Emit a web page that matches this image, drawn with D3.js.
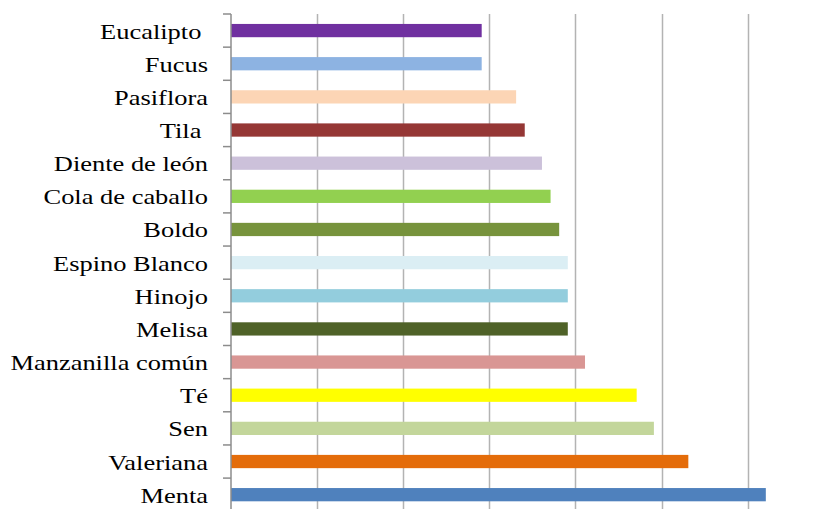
<!DOCTYPE html>
<html>
<head>
<meta charset="utf-8">
<script src="https://cdn.jsdelivr.net/npm/d3@7"></script>
<style>
  html, body { margin: 0; padding: 0; background: #fff; }
  svg { display: block; }
  .label { font-family: "Liberation Serif", "Times New Roman", Times, serif; }
</style>
</head>
<body>
<svg id="chart" width="824" height="509"></svg>
<script>
// Plants, listed top to bottom
const categories = [
  "Eucalipto ", "Fucus", "Pasiflora", "Tila ", "Diente de león",
  "Cola de caballo", "Boldo", "Espino Blanco", "Hinojo", "Melisa",
  "Manzanilla común", "Té", "Sen", "Valeriana", "Menta"
];
const values = [29, 29, 33, 34, 36, 37, 38, 39, 39, 39, 41, 47, 49, 53, 62];
const colors = [
  "#7030a0", "#8db3e2", "#fcd5b5", "#953735", "#ccc1da",
  "#92d050", "#77933c", "#dbeef4", "#93cddd", "#4f6228",
  "#d99694", "#ffff00", "#c3d69b", "#e46c0a", "#4f81bd"
];
const xTicks = [0, 10, 20, 30, 40, 50, 60, 70];

const svg = d3.select("#chart");
const plotLeft = 231, plotTop = 14, bandStep = 33.15;
const plotBottom = plotTop + bandStep * categories.length;

const x = d3.scaleLinear().domain([0, 70]).range([plotLeft, plotLeft + 86.1 * 7]);
const y = d3.scaleBand()
  .domain(categories)
  .range([plotTop, plotBottom])
  .paddingInner(0.6)
  .paddingOuter(0.3);

// vertical gridlines
svg.append("g")
  .selectAll("line")
  .data(xTicks.slice(1))
  .join("line")
  .attr("x1", d => Math.round(x(d)) + 0.5)
  .attr("x2", d => Math.round(x(d)) + 0.5)
  .attr("y1", plotTop)
  .attr("y2", plotBottom)
  .attr("stroke", "#b3b3b3")
  .attr("stroke-width", 1.5);

// bars
svg.append("g")
  .selectAll("rect")
  .data(categories)
  .join("rect")
  .attr("x", plotLeft)
  .attr("y", d => y(d))
  .attr("height", y.bandwidth())
  .attr("width", (d, i) => x(values[i]) - plotLeft + 1)
  .attr("fill", (d, i) => colors[i]);

// category axis: line and tick marks at band boundaries
const axis = svg.append("g").attr("stroke", "#8c8c8c").attr("stroke-width", 1.5);
axis.append("line")
  .attr("x1", plotLeft).attr("x2", plotLeft)
  .attr("y1", plotTop).attr("y2", plotBottom);
axis.selectAll("line.tick")
  .data(d3.range(categories.length + 1))
  .join("line")
  .attr("class", "tick")
  .attr("x1", plotLeft - 8).attr("x2", plotLeft)
  .attr("y1", i => plotTop + i * bandStep)
  .attr("y2", i => plotTop + i * bandStep);

// category labels
const fontSize = 21, stretch = 1.26, labelRight = 208;
svg.append("g")
  .selectAll("text")
  .data(categories)
  .join("text")
  .attr("class", "label")
  .attr("transform", d => `translate(${labelRight},${y(d) + y.bandwidth() / 2 + 8}) scale(${stretch},1)`)
  .attr("text-anchor", "end")
  .attr("font-size", fontSize)
  .attr("fill", "#000")
  .style("white-space", "pre")
  .text(d => d);
</script>
</body>
</html>
